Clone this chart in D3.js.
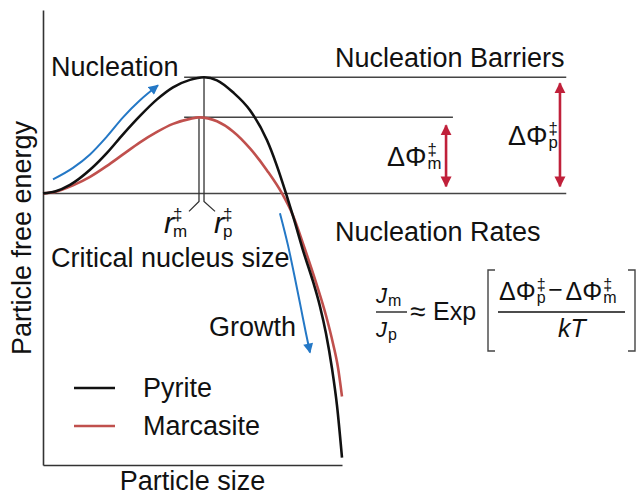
<!DOCTYPE html>
<html>
<head>
<meta charset="utf-8">
<script src="https://cdn.jsdelivr.net/npm/d3@7"></script>
<style>
  html, body { margin: 0; padding: 0; background: #fff; }
  svg text { font-family: "Liberation Sans", Arial, sans-serif; fill: #111; }
</style>
</head>
<body>
<div id="chart"></div>
<script>
// Particle size (arbitrary units) and free energy (pyrite barrier = 1)
const sizeP = [0, 4.01, 9.03, 15.72, 21.4, 26.76, 32.44, 38.13, 43.48, 49.16, 53.85, 58.19, 63.55, 69.23, 74.92, 77.93, 81.27, 83.95, 86.96, 90.3, 92.64, 94.65, 96.66, 98.33, 100];
const energyP = [0, 0.016, 0.073, 0.203, 0.349, 0.509, 0.668, 0.81, 0.914, 0.978, 1.0, 0.974, 0.871, 0.716, 0.457, 0.259, 0, -0.224, -0.491, -0.759, -0.974, -1.207, -1.509, -1.828, -2.276];

const sizeM = [0, 4.01, 10.03, 15.72, 21.4, 26.76, 32.44, 38.13, 43.48, 49.16, 52.17, 58.19, 63.55, 69.23, 74.92, 79.93, 83.61, 87.29, 91.3, 94.65, 96.99, 98.66, 100];
const energyM = [0, 0.013, 0.069, 0.142, 0.237, 0.336, 0.44, 0.53, 0.599, 0.642, 0.655, 0.621, 0.534, 0.388, 0.198, 0, -0.19, -0.457, -0.767, -1.052, -1.293, -1.5, -1.75];

const barrierP = 1.0;
const barrierM = 0.655;
const peakP = 53.85;
const peakM = 52.17;

// blue annotation arrows
const nucleationArrow = [[3.34, 0.121], [10.03, 0.22], [15.72, 0.336], [21.4, 0.491], [26.76, 0.655], [32.44, 0.802], [38.46, 0.931]];
const growthArrow = [[79.26, -0.172], [81.94, -0.448], [84.28, -0.733], [86.29, -0.991], [87.96, -1.207], [89.3, -1.371]];

const legendNames = ['Pyrite', 'Marcasite'];
const colors = { pyrite: '#111111', marcasite: '#c0504d', blue: '#2478c6', arrow: '#c0203a', ref: '#444444' };

const width = 637, height = 492;
const svg = d3.select('#chart').append('svg')
    .attr('width', width)
    .attr('height', height);

const x = d3.scaleLinear().domain([0, 100]).range([43, 342]);
const y = d3.scaleLinear().domain([-2.34, 1.58]).range([465, 10]);

const defs = svg.append('defs');
defs.append('marker').attr('id', 'blueHead')
    .attr('viewBox', '0 0 10 10').attr('refX', 9).attr('refY', 5)
    .attr('markerWidth', 11).attr('markerHeight', 10).attr('markerUnits', 'userSpaceOnUse')
    .attr('orient', 'auto')
    .append('path').attr('d', 'M0,0L10,5L0,10Z').attr('fill', colors.blue);
defs.append('marker').attr('id', 'redHead')
    .attr('viewBox', '0 0 10 10').attr('refX', 9).attr('refY', 5)
    .attr('markerWidth', 11).attr('markerHeight', 13).attr('markerUnits', 'userSpaceOnUse')
    .attr('orient', 'auto-start-reverse')
    .append('path').attr('d', 'M0,0L10,5L0,10Z').attr('fill', colors.arrow);

// axes (no ticks)
svg.append('g').attr('transform', `translate(0,${y.range()[0]})`)
    .call(d3.axisBottom(x).ticks(0).tickSizeOuter(0))
    .select('.domain').attr('stroke', '#333').attr('stroke-width', 1.6);
svg.append('g').attr('transform', `translate(${x.range()[0]},0)`)
    .call(d3.axisLeft(y).ticks(0).tickSizeOuter(0))
    .select('.domain').attr('stroke', '#333').attr('stroke-width', 1.6);

// reference lines
svg.append('line').attr('x1', x(0)).attr('x2', x(175)).attr('y1', y(0)).attr('y2', y(0))
    .attr('stroke', colors.ref).attr('stroke-width', 1.5);
svg.append('line').attr('x1', x(47.2)).attr('x2', x(175)).attr('y1', y(barrierP)).attr('y2', y(barrierP))
    .attr('stroke', colors.ref).attr('stroke-width', 1.5);
svg.append('line').attr('x1', x(47.2)).attr('x2', x(137.1)).attr('y1', y(barrierM)).attr('y2', y(barrierM))
    .attr('stroke', colors.ref).attr('stroke-width', 1.5);

// critical radius markers
const tickEnd = y(0) + 8;
svg.append('path')
    .attr('d', `M${x(peakM)},${y(barrierM)}V${tickEnd}L${x(peakM) - 10},${tickEnd + 10}`)
    .attr('fill', 'none').attr('stroke', '#333').attr('stroke-width', 1.3);
svg.append('path')
    .attr('d', `M${x(peakP)},${y(barrierP)}V${tickEnd}L${x(peakP) + 11},${tickEnd + 10}`)
    .attr('fill', 'none').attr('stroke', '#333').attr('stroke-width', 1.3);

// curves
const line = d3.line().x(d => x(d[0])).y(d => y(d[1])).curve(d3.curveMonotoneX);
svg.append('path').datum(d3.zip(sizeM, energyM)).attr('d', line)
    .attr('fill', 'none').attr('stroke', colors.marcasite).attr('stroke-width', 2.6);
svg.append('path').datum(d3.zip(sizeP, energyP)).attr('d', line)
    .attr('fill', 'none').attr('stroke', colors.pyrite).attr('stroke-width', 2.6);

// blue arrows
svg.append('path').datum(nucleationArrow).attr('d', line)
    .attr('fill', 'none').attr('stroke', colors.blue).attr('stroke-width', 2).attr('marker-end', 'url(#blueHead)');
svg.append('path').datum(growthArrow).attr('d', line)
    .attr('fill', 'none').attr('stroke', colors.blue).attr('stroke-width', 2).attr('marker-end', 'url(#blueHead)');

// barrier arrows
svg.append('line').attr('x1', x(134.8)).attr('x2', x(134.8)).attr('y1', y(0) - 7).attr('y2', y(barrierM) + 8)
    .attr('stroke', colors.arrow).attr('stroke-width', 2.6)
    .attr('marker-start', 'url(#redHead)').attr('marker-end', 'url(#redHead)');
svg.append('line').attr('x1', x(172.9)).attr('x2', x(172.9)).attr('y1', y(0) - 7).attr('y2', y(barrierP) + 6)
    .attr('stroke', colors.arrow).attr('stroke-width', 2.6)
    .attr('marker-start', 'url(#redHead)').attr('marker-end', 'url(#redHead)');

// helper: main text with stacked superscript / subscript, returns total width
function stacked(px, py, main, sup, sub, size, italic, sSize, gap) {
    const g = svg.append('g');
    const t = g.append('text').attr('x', px).attr('y', py).attr('font-size', size).text(main);
    if (italic) t.attr('font-style', 'italic');
    const w = t.node().getComputedTextLength();
    const ss = sSize || size * 0.62;
    const sx = px + w + (gap === undefined ? 1 : gap);
    let sw = 0;
    if (sup) {
        const a = g.append('text').attr('x', sx).attr('y', py - size * 0.42).attr('font-size', ss).text(sup);
        sw = Math.max(sw, a.node().getComputedTextLength());
    }
    if (sub) {
        const b = g.append('text').attr('x', sx).attr('y', py + size * 0.12).attr('font-size', ss).text(sub);
        sw = Math.max(sw, b.node().getComputedTextLength());
    }
    return sx + sw - px;
}

// labels
const txt = (px, py, s, size, anchor) => svg.append('text').attr('x', px).attr('y', py)
    .attr('font-size', size || 27).attr('text-anchor', anchor || 'start').text(s);

txt(51, 76, 'Nucleation');
txt(335, 67, 'Nucleation Barriers');
txt(335, 241, 'Nucleation Rates');
txt(51, 267, 'Critical nucleus size');
txt(209, 336, 'Growth');
txt(192.5, 490, 'Particle size', 27, 'middle');
svg.append('text').attr('transform', 'translate(31,238) rotate(-90)')
    .attr('font-size', 27).attr('text-anchor', 'middle').text('Particle free energy');

stacked(387, 166, 'ΔΦ', '‡', 'm', 27);
stacked(508, 145, 'ΔΦ', '‡', 'p', 27);
stacked(164, 233, 'r', '‡', 'm', 30, true, 17, -1);
stacked(214, 233, 'r', '‡', 'p', 30, true, 17, -1);

// legend
legendNames.forEach((name, i) => {
    const ly = 388 + i * 38;
    svg.append('line').attr('x1', 74).attr('x2', 115).attr('y1', ly).attr('y2', ly)
        .attr('stroke', i === 0 ? colors.pyrite : colors.marcasite).attr('stroke-width', 2.6);
    txt(143, ly + 9, name);
});

// formula
stacked(376, 303, 'J', '', 'm', 22, true, 16, 1);
stacked(376, 337, 'J', '', 'p', 22, true, 16, 1);
svg.append('line').attr('x1', 376).attr('x2', 407).attr('y1', 312).attr('y2', 312).attr('stroke', '#111').attr('stroke-width', 1.3);
txt(410, 321, '≈', 28);
txt(433, 320, 'Exp', 25);
svg.append('path').attr('d', 'M495,270H488V351H495').attr('fill', 'none').attr('stroke', '#444').attr('stroke-width', 1.4);
svg.append('path').attr('d', 'M628,270H635V351H628').attr('fill', 'none').attr('stroke', '#444').attr('stroke-width', 1.4);
const w1 = stacked(499, 300, 'ΔΦ', '‡', 'p', 25, false, 16, 1);
svg.append('text').attr('x', 499 + w1 + 10).attr('y', 298).attr('font-size', 25)
    .attr('text-anchor', 'middle').text('−');
stacked(499 + w1 + 20, 300, 'ΔΦ', '‡', 'm', 25, false, 16, 1);
svg.append('line').attr('x1', 498).attr('x2', 625).attr('y1', 312).attr('y2', 312).attr('stroke', '#111').attr('stroke-width', 1.3);
svg.append('text').attr('x', 572).attr('y', 337).attr('font-size', 25).attr('font-style', 'italic')
    .attr('text-anchor', 'middle').text('kT');
</script>
</body>
</html>
